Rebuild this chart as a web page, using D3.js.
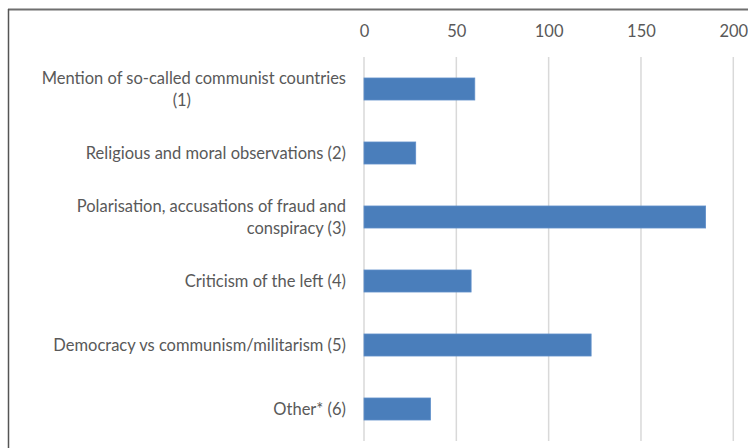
<!DOCTYPE html>
<html>
<head>
<meta charset="utf-8">
<script src="https://cdn.jsdelivr.net/npm/d3@7/dist/d3.min.js"></script>
<style>
  html, body { margin: 0; padding: 0; background: #fff; }
  svg { display: block; }
  text { font-family: Lato, "Open Sans", sans-serif; fill: #595959; }
</style>
</head>
<body>
<svg id="chart" width="748" height="448"></svg>
<script>
const categories = [
  ["Mention of so-called communist countries", "(1)"],
  ["Religious and moral observations (2)"],
  ["Polarisation, accusations of fraud and", "conspiracy (3)"],
  ["Criticism of the left (4)"],
  ["Democracy vs communism/militarism (5)"],
  ["Other* (6)"]
];
const values = [60, 28, 185, 58, 123, 36];
const tickValues = [0, 50, 100, 150, 200];

const svg = d3.select("#chart");
const W = 748, H = 448;
const fs = "16.5px";

const x = d3.scaleLinear().domain([0, 200]).range([364, 733.3]);
const y = d3.scaleBand()
  .domain(d3.range(categories.length))
  .range([57, 441])
  .paddingInner(0.656)
  .paddingOuter(0.328);

// frame
svg.append("line").attr("x1", 8).attr("x2", W).attr("y1", 9.5).attr("y2", 9.5)
  .attr("stroke", "#6f6f6f").attr("stroke-width", 2);
svg.append("line").attr("x1", 8.5).attr("x2", 8.5).attr("y1", 9).attr("y2", H)
  .attr("stroke", "#555").attr("stroke-width", 1.5);

// gridlines
svg.append("g").selectAll("line").data(tickValues).join("line")
  .attr("x1", d => x(d)).attr("x2", d => x(d))
  .attr("y1", 57).attr("y2", 441)
  .attr("stroke", "#d9d9d9").attr("stroke-width", 1.5);

// top axis
const axis = svg.append("g").attr("transform", "translate(0,37)")
  .call(d3.axisTop(x).tickValues(tickValues).tickSize(0).tickPadding(0).tickFormat(d3.format("d")));
axis.select(".domain").remove();
axis.selectAll("text").style("font-size", fs).style("fill", "#595959")
  .style("font-family", "Lato, 'Open Sans', sans-serif");

// bars
svg.append("g").selectAll("rect").data(values).join("rect")
  .attr("x", x(0))
  .attr("y", (d, i) => y(i))
  .attr("width", d => x(d) - x(0))
  .attr("height", y.bandwidth())
  .attr("fill", "#4a7ebb")
  .attr("stroke", "#5f8fca").attr("stroke-width", 0.8);

// category labels
const labelX = 346;
const lineH = 22;
const lab = svg.append("g");
categories.forEach((lines, i) => {
  const cy = y(i) + y.bandwidth() / 2;
  const n = lines.length;
  const first = lab.append("text")
    .attr("x", labelX)
    .attr("y", cy - (n - 1) * lineH / 2)
    .attr("dy", "0.35em")
    .attr("text-anchor", "end")
    .style("font-size", fs)
    .text(lines[0]);
  if (n > 1) {
    const w = first.node().getComputedTextLength();
    const t = lab.append("text")
      .attr("y", cy + lineH / 2)
      .attr("dy", "0.35em")
      .style("font-size", fs)
      .text(lines[1]);
    if (i === 0) {
      t.attr("x", labelX - w / 2 - 12).attr("text-anchor", "middle");
    } else {
      t.attr("x", labelX).attr("text-anchor", "end");
    }
  }
});
</script>
</body>
</html>
